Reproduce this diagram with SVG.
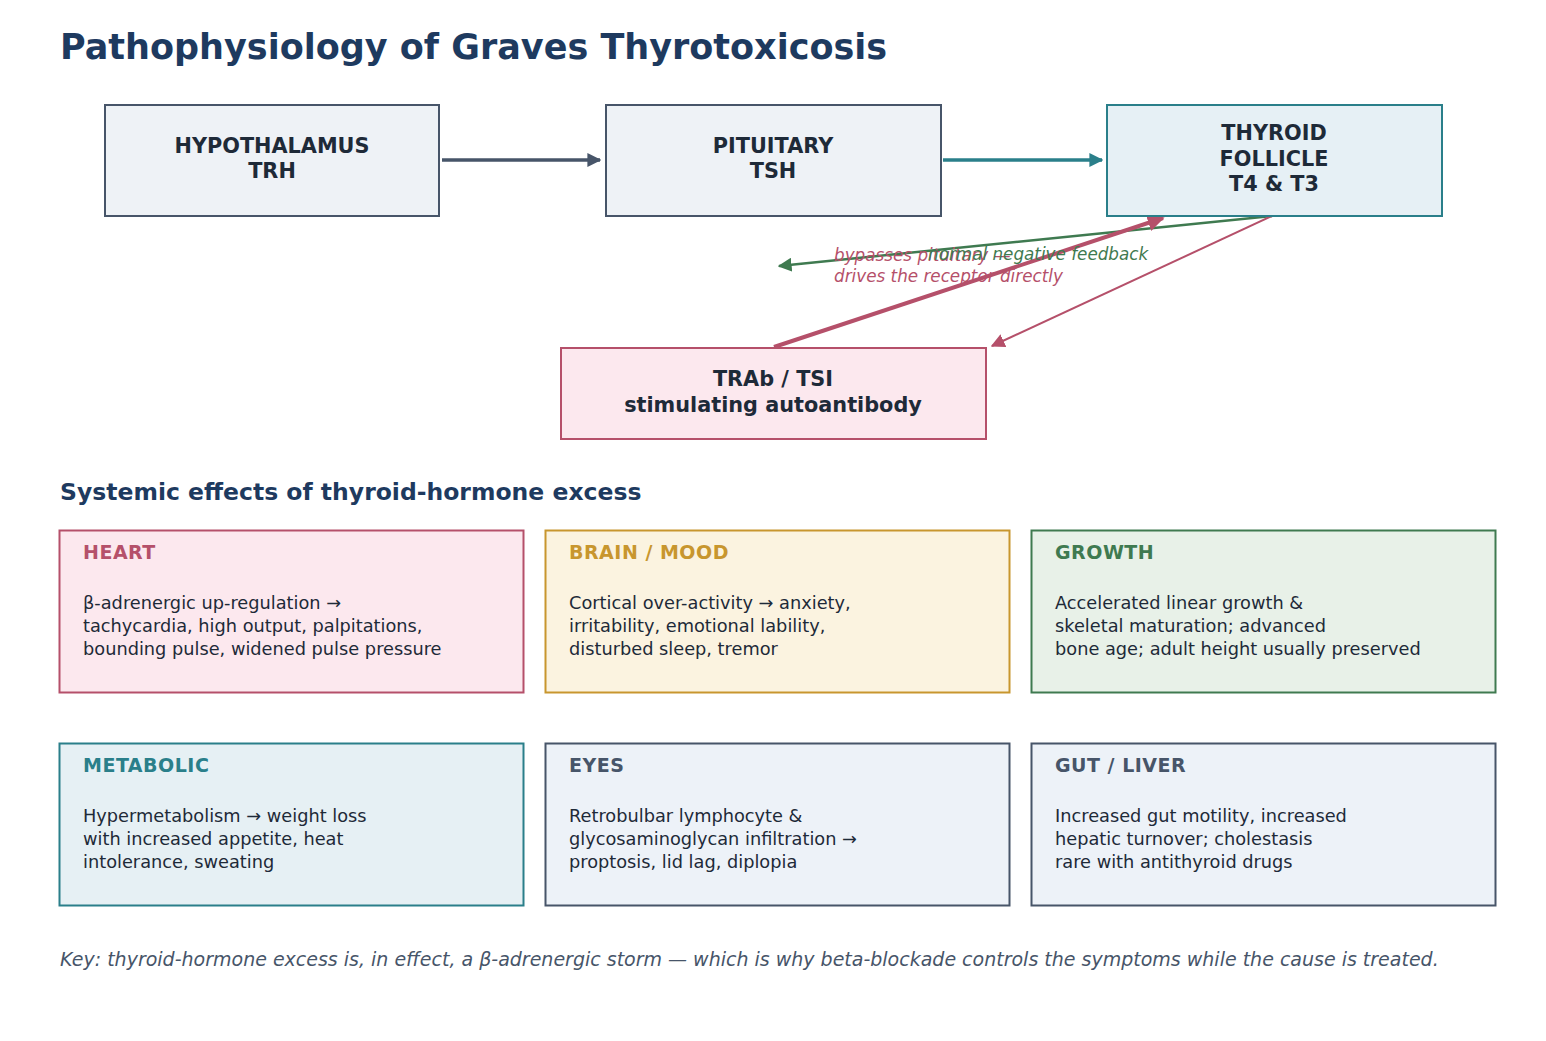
<svg xmlns="http://www.w3.org/2000/svg" width="1546" height="1041" viewBox="0 0 1546 1041">
<defs>
<style>
text{font-family:"DejaVu Sans","Liberation Sans",sans-serif;}
.title{font-size:35px;font-weight:bold;fill:#1e3a5f;}
.sec{font-size:23.5px;font-weight:bold;fill:#1e3a5f;}
.node{font-size:20.8px;font-weight:bold;fill:#1e2a38;}
.ctitle{font-size:19px;font-weight:bold;letter-spacing:0.5px;}
.body{font-size:17.75px;fill:#1e2a38;}
.lbl{font-size:16.8px;font-style:italic;}
.key{font-size:19px;font-style:italic;fill:#475569;}
.box{stroke-width:2;}
</style>
<marker id="aSlate" viewBox="0 0 10 10" refX="9" refY="5" markerWidth="14" markerHeight="14" orient="auto" markerUnits="userSpaceOnUse"><path d="M0,0L10,5L0,10z" fill="#475569"/></marker>
<marker id="aTeal" viewBox="0 0 10 10" refX="9" refY="5" markerWidth="14" markerHeight="14" orient="auto" markerUnits="userSpaceOnUse"><path d="M0,0L10,5L0,10z" fill="#2a7f8a"/></marker>
<marker id="aGreen" viewBox="0 0 10 10" refX="9" refY="5" markerWidth="14" markerHeight="14" orient="auto" markerUnits="userSpaceOnUse"><path d="M0,0L10,5L0,10z" fill="#3f7a50"/></marker>
<marker id="aRed" viewBox="0 0 10 10" refX="9" refY="5" markerWidth="14" markerHeight="14" orient="auto" markerUnits="userSpaceOnUse"><path d="M0,0L10,5L0,10z" fill="#b5506a"/></marker>
<marker id="aRedBig" viewBox="0 0 10 10" refX="9" refY="5" markerWidth="17" markerHeight="17" orient="auto" markerUnits="userSpaceOnUse"><path d="M0,0L10,5L0,10z" fill="#b5506a"/></marker>
</defs>
<rect width="1546" height="1041" fill="#ffffff"/>
<text class="title" x="60" y="59">Pathophysiology of Graves Thyrotoxicosis</text>

<g id="connectors" fill="none">
<line x1="442" y1="160" x2="600" y2="160" stroke="#475569" stroke-width="3.5" marker-end="url(#aSlate)"/>
<line x1="943" y1="160" x2="1102" y2="160" stroke="#2a7f8a" stroke-width="3.5" marker-end="url(#aTeal)"/>
<line x1="1272" y1="216" x2="779" y2="266" stroke="#3f7a50" stroke-width="2.5" marker-end="url(#aGreen)"/>
<line x1="774" y1="347" x2="1163" y2="218" stroke="#b5506a" stroke-width="4" marker-end="url(#aRedBig)"/>
<line x1="1272" y1="216" x2="992" y2="346" stroke="#b5506a" stroke-width="2" marker-end="url(#aRed)"/>
<text class="lbl" x="834" y="261" fill="#b5506a">bypasses pituitary —</text>
<text class="lbl" x="834" y="282" fill="#b5506a">drives the receptor directly</text>
<text class="lbl" x="928" y="260" fill="#3f7a50">normal negative feedback</text>
</g>

<g id="hypothalamus">
<rect class="box" x="105" y="105" width="334" height="111" fill="#eef2f6" stroke="#475569"/>
<text class="node" x="272" y="153" text-anchor="middle">HYPOTHALAMUS</text>
<text class="node" x="272" y="178" text-anchor="middle">TRH</text>
</g>
<g id="pituitary">
<rect class="box" x="606" y="105" width="335" height="111" fill="#eef2f6" stroke="#475569"/>
<text class="node" x="773" y="153" text-anchor="middle">PITUITARY</text>
<text class="node" x="773" y="178" text-anchor="middle">TSH</text>
</g>
<g id="thyroid">
<rect class="box" x="1107" y="105" width="335" height="111" fill="#e6f0f5" stroke="#2a7f8a"/>
<text class="node" x="1274" y="140" text-anchor="middle">THYROID</text>
<text class="node" x="1274" y="166" text-anchor="middle">FOLLICLE</text>
<text class="node" x="1274" y="191" text-anchor="middle">T4 &amp; T3</text>
</g>
<g id="trab">
<rect class="box" x="561" y="348" width="425" height="91" fill="#fce8ee" stroke="#b5506a"/>
<text class="node" x="773" y="386" text-anchor="middle">TRAb / TSI</text>
<text class="node" x="773" y="412" text-anchor="middle">stimulating autoantibody</text>
</g>

<text class="sec" x="60" y="500">Systemic effects of thyroid-hormone excess</text>

<g id="heart">
<rect class="box" x="59.500" y="530.500" width="464" height="162" fill="#fce8ee" stroke="#b5506a"/>
<text class="ctitle" x="83" y="559" fill="#b5506a">HEART</text>
<text class="body" x="83" y="609">β-adrenergic up-regulation →</text>
<text class="body" x="83" y="632">tachycardia, high output, palpitations,</text>
<text class="body" x="83" y="655">bounding pulse, widened pulse pressure</text>
</g>
<g id="brain">
<rect class="box" x="545.500" y="530.500" width="464" height="162" fill="#fbf3e0" stroke="#c8962e"/>
<text class="ctitle" x="569" y="559" fill="#c8962e">BRAIN / MOOD</text>
<text class="body" x="569" y="609">Cortical over-activity → anxiety,</text>
<text class="body" x="569" y="632">irritability, emotional lability,</text>
<text class="body" x="569" y="655">disturbed sleep, tremor</text>
</g>
<g id="growth">
<rect class="box" x="1031.500" y="530.500" width="464" height="162" fill="#e8f1e8" stroke="#3f7a50"/>
<text class="ctitle" x="1055" y="559" fill="#3f7a50">GROWTH</text>
<text class="body" x="1055" y="609">Accelerated linear growth &amp;</text>
<text class="body" x="1055" y="632">skeletal maturation; advanced</text>
<text class="body" x="1055" y="655">bone age; adult height usually preserved</text>
</g>
<g id="metabolic">
<rect class="box" x="59.500" y="743.500" width="464" height="162" fill="#e6f0f4" stroke="#2a7f8a"/>
<text class="ctitle" x="83" y="772" fill="#2a7f8a">METABOLIC</text>
<text class="body" x="83" y="822">Hypermetabolism → weight loss</text>
<text class="body" x="83" y="845">with increased appetite, heat</text>
<text class="body" x="83" y="868">intolerance, sweating</text>
</g>
<g id="eyes">
<rect class="box" x="545.500" y="743.500" width="464" height="162" fill="#edf2f8" stroke="#475569"/>
<text class="ctitle" x="569" y="772" fill="#475569">EYES</text>
<text class="body" x="569" y="822">Retrobulbar lymphocyte &amp;</text>
<text class="body" x="569" y="845">glycosaminoglycan infiltration →</text>
<text class="body" x="569" y="868">proptosis, lid lag, diplopia</text>
</g>
<g id="gut">
<rect class="box" x="1031.500" y="743.500" width="464" height="162" fill="#edf2f8" stroke="#475569"/>
<text class="ctitle" x="1055" y="772" fill="#475569">GUT / LIVER</text>
<text class="body" x="1055" y="822">Increased gut motility, increased</text>
<text class="body" x="1055" y="845">hepatic turnover; cholestasis</text>
<text class="body" x="1055" y="868">rare with antithyroid drugs</text>
</g>

<text class="key" x="60" y="966">Key: thyroid-hormone excess is, in effect, a β-adrenergic storm — which is why beta-blockade controls the symptoms while the cause is treated.</text>
</svg>
